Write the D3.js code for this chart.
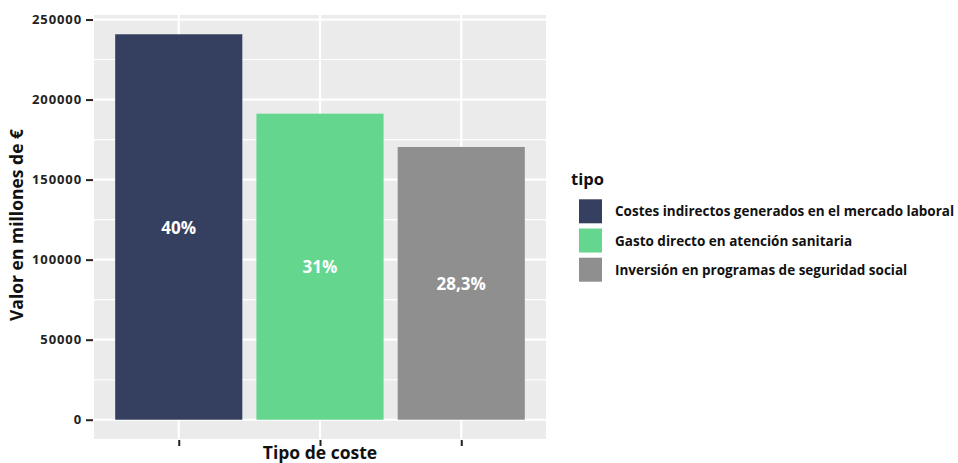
<!DOCTYPE html>
<html>
<head>
<meta charset="utf-8">
<script src="https://cdn.jsdelivr.net/npm/d3@7"></script>
<style>
  html, body { margin: 0; padding: 0; background: #ffffff; }
  svg { display: block; font-family: "Open Sans", Lato, sans-serif; }
</style>
</head>
<body>
<svg id="chart" width="958" height="463"></svg>
<script>
// ---- data ----
const categories = [
  "Costes indirectos generados en el mercado laboral",
  "Gasto directo en atención sanitaria",
  "Inversión en programas de seguridad social"
];
const values = [240800, 191200, 170400];
const barLabels = ["40%", "31%", "28,3%"];
const colors = ["#353F5F", "#64D68E", "#8F8F8F"];
const yTicks = [0, 50000, 100000, 150000, 200000, 250000];
const yMinor = [25000, 75000, 125000, 175000, 225000];
const legendTitle = "tipo";
const xTitle = "Tipo de coste";
const yTitle = "Valor en millones de €";

// ---- layout ----
const FONT = "'Open Sans', Lato, sans-serif";
const svg = d3.select("#chart");
const panel = { left: 94, right: 546, top: 15, bottom: 439 };

const maxV = d3.max(values);
const y = d3.scaleLinear()
  .domain([-0.05 * maxV, 1.05 * maxV])
  .range([panel.bottom, panel.top]);

const x = d3.scaleLinear()
  .domain([0.4, categories.length + 0.6])
  .range([panel.left, panel.right]);
const barW = 0.9;

svg.append("rect")
  .attr("x", panel.left).attr("y", panel.top)
  .attr("width", panel.right - panel.left)
  .attr("height", panel.bottom - panel.top)
  .attr("fill", "#EBEBEB");

svg.append("g").selectAll("line").data(yMinor).join("line")
  .attr("x1", panel.left).attr("x2", panel.right)
  .attr("y1", d => y(d)).attr("y2", d => y(d))
  .attr("stroke", "#ffffff").attr("stroke-width", 1.1);

svg.append("g").selectAll("line").data(yTicks).join("line")
  .attr("x1", panel.left).attr("x2", panel.right)
  .attr("y1", d => y(d)).attr("y2", d => y(d))
  .attr("stroke", "#ffffff").attr("stroke-width", 2.2);

svg.append("g").selectAll("line").data(categories).join("line")
  .attr("x1", (d, i) => x(i + 1)).attr("x2", (d, i) => x(i + 1))
  .attr("y1", panel.top).attr("y2", panel.bottom)
  .attr("stroke", "#ffffff").attr("stroke-width", 2.2);

svg.append("g").selectAll("rect").data(values).join("rect")
  .attr("x", (d, i) => x(i + 1 - barW / 2))
  .attr("width", (d, i) => x(i + 1 + barW / 2) - x(i + 1 - barW / 2))
  .attr("y", d => y(d))
  .attr("height", d => y(0) - y(d))
  .attr("fill", (d, i) => colors[i]);

svg.append("g").selectAll("text").data(values).join("text")
  .attr("x", (d, i) => x(i + 1))
  .attr("y", d => (y(d) + y(0)) / 2)
  .attr("text-anchor", "middle")
  .attr("dominant-baseline", "central")
  .attr("fill", "#ffffff")
  .attr("font-weight", 700)
  .attr("font-size", 17)
  .text((d, i) => barLabels[i]);

const yAxis = d3.axisLeft(y).tickValues(yTicks).tickSize(7).tickPadding(4)
  .tickFormat(d3.format("d"));
const gy = svg.append("g").attr("transform", `translate(${panel.left - 1},0)`).call(yAxis);
gy.select(".domain").remove();
gy.selectAll(".tick line").attr("stroke", "#222").attr("stroke-width", 2);
gy.selectAll(".tick text").attr("fill", "#222").attr("font-size", 13)
  .attr("letter-spacing", 0.9)
  .attr("font-weight", 700).attr("font-family", FONT);

const xAxis = d3.axisBottom(x).tickValues(d3.range(1, categories.length + 1))
  .tickSize(6).tickFormat(() => "");
const gx = svg.append("g").attr("transform", `translate(0,${panel.bottom + 1})`).call(xAxis);
gx.select(".domain").remove();
gx.selectAll(".tick line").attr("stroke", "#222").attr("stroke-width", 2);

svg.append("text")
  .attr("x", (panel.left + panel.right) / 2)
  .attr("y", 459)
  .attr("text-anchor", "middle")
  .attr("font-size", 17.5).attr("font-weight", 700).attr("fill", "#111")
  .text(xTitle);

svg.append("text")
  .attr("transform", `translate(23,225) rotate(-90)`)
  .attr("text-anchor", "middle")
  .attr("font-size", 17.5).attr("font-weight", 700).attr("fill", "#111")
  .text(yTitle);

const lg = svg.append("g");
lg.append("text").attr("x", 571).attr("y", 185)
  .attr("font-size", 16.5).attr("font-weight", 700).attr("fill", "#111")
  .text(legendTitle);
const keyH = 24, keyW = 23, keyStep = 29.2, keyTop = 199.3;
categories.forEach((c, i) => {
  lg.append("rect")
    .attr("x", 579).attr("y", keyTop + i * keyStep)
    .attr("width", keyW).attr("height", keyH)
    .attr("fill", colors[i]);
  lg.append("text")
    .attr("x", 615).attr("y", keyTop + i * keyStep + keyH / 2)
    .attr("dominant-baseline", "central")
    .attr("font-size", 13.5).attr("font-weight", 700).attr("fill", "#111")
    .text(c);
});
</script>
</body>
</html>
